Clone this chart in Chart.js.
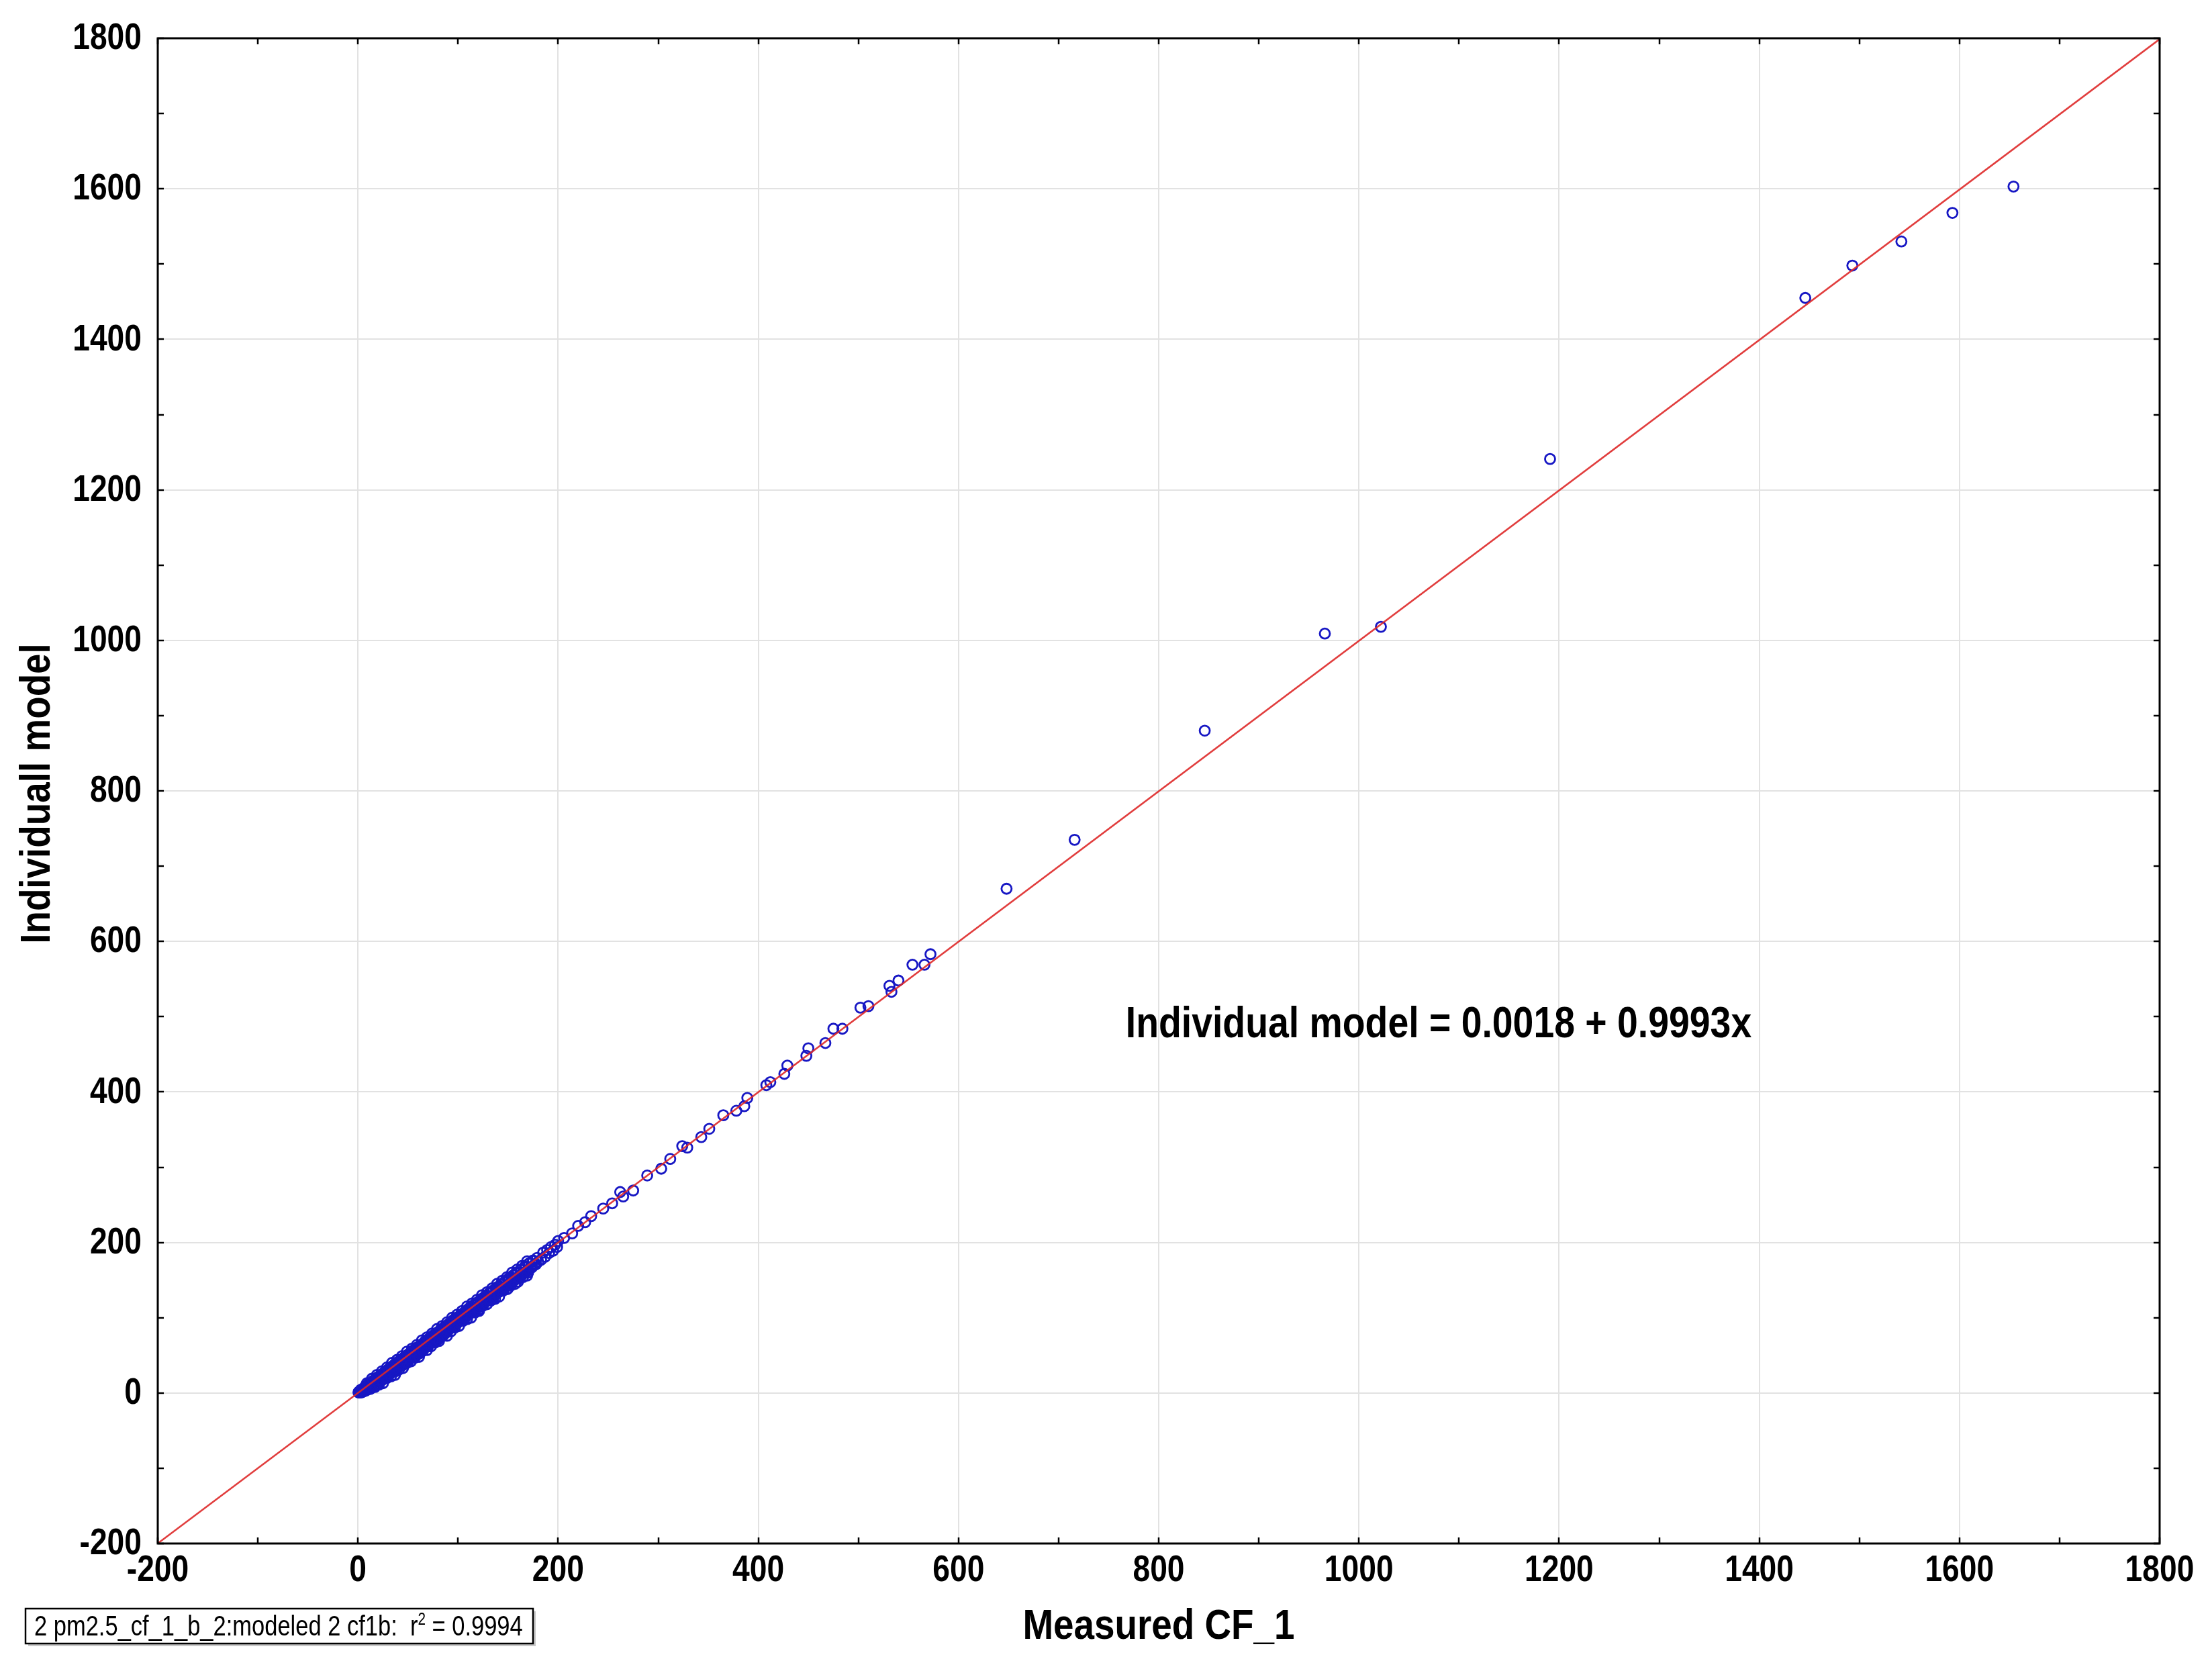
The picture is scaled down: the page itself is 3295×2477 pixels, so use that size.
<!DOCTYPE html>
<html>
<head>
<meta charset="utf-8">
<script src="https://cdn.jsdelivr.net/npm/chart.js@4/dist/chart.umd.min.js"></script>
<style>
html,body{margin:0;padding:0;background:#fff;}
#wrap{width:3295px;height:2477px;position:relative;}
</style>
</head>
<body>
<div id="wrap"><canvas id="c" width="3295" height="2477"></canvas></div>
<script>
// ---------- data ----------
const measuredCF1 = [
 0.5,1,1.5,2,2.5,3,3.5,4,4.5,5,5.5,6,6.5,7,7.5,8,8.5,9,9.5,10,10.5,11,11.5,12,12.5,13,13.5,14,14.5,15,15.5,16,16.5,17,17.5,18,18.5,19,19.5,20,
 21,21.5,22.5,23,24,24.5,25.5,26,27,27.5,28.5,29,30,30.5,31.5,32,33,33.5,34.5,35,36,36.5,37.5,38,39,39.5,40.5,41,42,42.5,43.5,44,45,45.5,46.5,47,48,48.5,49.5,50,51,51.5,52.5,53,54,54.5,55.5,56,57,57.5,58.5,59,60,
 61,62,63,64,65,66,67,68,69,70,71,72,73,74,75,76,77,78,79,80,81,82,83,84,85,86,87,88,89,90,91,92,93,94,95,96,97,98,99,100,101,102,103,104,105,106,107,108,109,110,111,112,113,114,115,116,117,118,119,120,
 122,123,125,126,128,129,131,132,134,135,137,138,140,141,143,144,146,147,149,150,152,153,155,156,158,159,161,163,165,167,169,171,173,175,177,179,
 183,185,187,189,191,193,195,197,199,200,
 22,25,30,38,45,50,58,62,70,80,88,95,105,120,135,150,160,170,
 2,4,6,8,10,12,14,16,18,20,22,24,26,28,30,32,34,36,38,40,42,44,46,48,50,52,54,56,58,60,62,64,66,68,70,72,74,76,78,80,82,84,86,88,90,
 92,94,96,98,100,102,104,106,108,110,112,114,116,118,120,122,124,126,128,130,132,134,136,138,140,142,144,146,148,150,152,154,156,158,160,162,164,166,168,170,172,174,176,178,180,
 3,7,11,15,19,23,27,31,35,39,43,47,51,55,59,63,67,71,75,79,83,87,91,95,99,103,107,111,115,119,123,127,131,135,139,143,147,151,155,159,163,167,171,175,
 13,17,21,25,29,33,37,41,45,49,53,57,61,65,69,73,77,81,85,89,93,97,101,105,109,113,117,121,125,129,133,137,141,145,149,153,157,161,165,169,
 9,14,19,24,29,34,39,44,49,54,59,64,69,74,79,84,89,94,99,104,109,114,119,124,129,134,139,144,149,154,159,164,169,
 206,214,220,227,233,245,254,262,265,275,289,303,312,324,329,343,351,365,378,386,389,408,412,426,429,448,450,467,475,484,502,510,531,533,540,554,566,572,
 648,716,846,966,1022,1191,1446,1493,1542,1593,1654
];
const individualModel = [
 0.8,1.5,0.7,2.6,1.9,3.4,2.2,4.3,3.6,5.2,4.1,6.4,5.5,7.1,6.2,8.6,7.3,9.4,8.1,10.7,9.2,11.3,10.1,12.8,11.0,13.5,12.2,14.6,12.9,15.8,13.7,16.4,14.8,17.9,15.6,18.5,16.9,19.7,17.4,20.8,
 21.6,19.8,23.1,21.0,24.9,22.7,26.0,24.1,27.8,25.4,29.1,26.8,30.9,28.5,32.2,29.6,33.8,31.2,35.1,32.6,36.9,34.0,38.2,35.3,39.7,36.8,41.3,38.2,42.8,39.6,44.0,41.1,45.9,42.4,47.2,44.0,48.8,45.3,50.1,46.9,51.7,48.2,53.3,49.8,54.6,51.1,56.2,52.7,57.8,54.1,59.0,55.6,60.9,
 57.5,62.7,59.1,64.8,61.0,66.5,63.2,68.9,64.7,70.6,66.8,72.9,68.5,74.7,70.9,76.6,72.4,78.8,74.6,80.5,76.3,82.9,78.4,84.6,80.7,86.8,82.1,88.5,84.6,90.9,86.2,92.7,88.8,94.5,90.1,96.9,92.6,98.4,94.3,100.8,96.1,102.6,98.7,104.9,99.8,106.5,102.4,108.8,103.9,110.6,106.3,112.7,107.8,114.5,110.2,116.9,111.6,118.4,113.9,120.7,
 117.2,123.8,119.6,126.9,122.5,129.7,125.1,132.6,128.3,135.9,130.8,138.4,133.6,141.8,136.9,144.5,139.2,147.7,142.8,150.6,145.1,153.9,148.6,156.5,151.2,159.8,154.7,163.4,158.1,167.9,162.5,171.6,166.2,175.8,170.9,179.5,
 177,186.5,181,190,186,194,189,197,194,202,
 15,18,22,29,37,41,50,53,62,71,80,87,96,110,125,139,148,160,
 0.6,0.9,2.3,3.1,5.8,5.2,8.9,9.4,11.7,13.1,16.2,17.5,19.8,21.4,23.9,25.2,27.6,30.3,31.1,33.8,35.7,37.2,40.1,40.9,44.2,45.3,47.6,50.4,51.2,53.9,55.1,57.8,60.2,61.3,63.7,65.9,67.2,70.1,71.4,73.6,75.8,77.3,80.2,81.1,83.9,
 85.4,87.6,90.3,91.2,93.8,95.5,97.1,100.4,101.2,103.6,105.9,107.3,110.2,111.1,113.7,115.8,117.2,120.4,121.3,123.5,125.8,127.1,130.2,131.6,133.9,135.2,137.7,140.3,141.1,143.8,145.6,147.2,150.3,151.4,153.7,155.9,157.3,160.2,161.1,163.6,165.8,167.4,170.1,171.2,174.5,
 4.4,8.2,12.6,16.3,20.5,24.1,28.6,32.4,36.2,40.7,44.3,48.5,52.1,56.6,60.4,64.2,68.7,72.3,76.5,80.1,84.6,88.4,92.2,96.7,100.3,104.5,108.1,112.6,116.4,120.2,124.7,128.3,132.5,136.1,140.6,144.4,148.2,152.7,156.3,160.5,164.1,168.6,172.4,176.2,
 6,8,11,13,20,22,24,31,33,40,42,47,48,56,57,62,67,69,76,76,82,87,89,96,98,100,107,109,116,118,123,125,128,136,138,143,145,152,154,156,
 13,19,24,29,34,40,44,49,55,59,64,70,74,79,85,89,94,100,104,109,115,119,124,130,134,139,145,149,154,160,164,169,175,
 206,212,222,227,235,245,252,267,261,269,289,298,311,328,326,340,351,369,375,381,392,409,413,424,435,448,458,465,484,484,512,514,541,533,548,569,569,583,
 670,735,880,1009,1018,1241,1455,1498,1530,1568,1603
];
const xTickValues = [-200,0,200,400,600,800,1000,1200,1400,1600,1800];
const yTickValues = [-200,0,200,400,600,800,1000,1200,1400,1600,1800];
const minorStep = 100;
const fitIntercept = 0.0018;
const fitSlope = 0.9993;
const xTitle = 'Measured CF_1';
const yTitle = 'Individuall model';
const equationText = 'Individual model = 0.0018 + 0.9993x';
const equationAnchor = {x: 767, y: 488};
const legendMain = '2 pm2.5_cf_1_b_2:modeled 2 cf1b:  r';
const legendSup = '2';
const legendTail = ' = 0.9994';

// ---------- styling ----------
const FONT = "'Liberation Sans',Arial,sans-serif";
const pts = measuredCF1.map((x,i)=>({x:x, y:individualModel[i]}));
const xMin = xTickValues[0], xMax = xTickValues[xTickValues.length-1];
const fitLine = [{x:xMin, y:fitIntercept+fitSlope*xMin},{x:xMax, y:fitIntercept+fitSlope*xMax}];

function narrowText(ctx, text, x, y, font, sx, align, baseline, rot){
  ctx.save();
  ctx.translate(x, y);
  if (rot) ctx.rotate(rot);
  ctx.scale(sx, 1);
  ctx.font = font;
  ctx.textAlign = align; ctx.textBaseline = baseline;
  ctx.fillStyle = '#000';
  ctx.fillText(text, 0, 0);
  ctx.restore();
}

const decor = {
  id:'decor',
  afterDatasetsDraw(chart){
    const ctx = chart.ctx, a = chart.chartArea;
    const xs = chart.scales.x, ys = chart.scales.y;
    ctx.save();
    ctx.strokeStyle = '#000'; ctx.lineWidth = 3;
    ctx.strokeRect(a.left, a.top, a.right-a.left, a.bottom-a.top);
    ctx.lineWidth = 2.5;
    const tl = 9;
    ctx.beginPath();
    for (let v = xs.min; v <= xs.max + 1e-6; v += minorStep){
      const px = Math.round(xs.getPixelForValue(v));
      ctx.moveTo(px, a.bottom); ctx.lineTo(px, a.bottom - tl);
      ctx.moveTo(px, a.top); ctx.lineTo(px, a.top + tl);
    }
    for (let v = ys.min; v <= ys.max + 1e-6; v += minorStep){
      const py = Math.round(ys.getPixelForValue(v));
      ctx.moveTo(a.left, py); ctx.lineTo(a.left + tl, py);
      ctx.moveTo(a.right, py); ctx.lineTo(a.right - tl, py);
    }
    ctx.stroke();
    ctx.restore();
    const tickFont = 'bold 55px ' + FONT;
    xTickValues.forEach(v => narrowText(ctx, String(v), xs.getPixelForValue(v), a.bottom + 41, tickFont, 0.84, 'center', 'middle'));
    yTickValues.forEach(v => narrowText(ctx, String(v), a.left - 24, ys.getPixelForValue(v) + 1, tickFont, 0.84, 'right', 'middle'));
    const titleFont = 'bold 63px ' + FONT;
    narrowText(ctx, xTitle, (a.left + a.right)/2, 2424, titleFont, 0.87, 'center', 'middle');
    narrowText(ctx, yTitle, 57, (a.top + a.bottom)/2 + 4, titleFont, 0.87, 'center', 'middle', -Math.PI/2);
    narrowText(ctx, equationText, xs.getPixelForValue(equationAnchor.x), ys.getPixelForValue(equationAnchor.y), 'bold 64px ' + FONT, 0.865, 'left', 'middle');
  },
  afterDraw(chart){
    const ctx = chart.ctx;
    ctx.save();
    const bx = 38, by = 2396, bw = 756, bh = 52;
    ctx.fillStyle = '#c8c8c8';
    ctx.fillRect(bx+4, by+4, bw, bh);
    ctx.fillStyle = '#fff';
    ctx.fillRect(bx, by, bw, bh);
    ctx.strokeStyle = '#000'; ctx.lineWidth = 2.5;
    ctx.strokeRect(bx, by, bw, bh);
    ctx.restore();
    const sx = 0.82;
    ctx.save();
    let fs = 34;
    ctx.font = fs + 'px ' + FONT;
    const target = 728;
    const w0 = (ctx.measureText(legendMain).width + ctx.measureText(legendTail).width + ctx.measureText(legendSup).width*0.6) * sx;
    fs = fs * target / w0;
    ctx.font = fs + 'px ' + FONT;
    const wMain = ctx.measureText(legendMain).width * sx;
    ctx.font = (fs*0.6) + 'px ' + FONT;
    const wSup = ctx.measureText(legendSup).width * sx;
    ctx.restore();
    let x = bx + 13, y = by + 40;
    narrowText(ctx, legendMain, x, y, fs + 'px ' + FONT, sx, 'left', 'alphabetic'); x += wMain;
    narrowText(ctx, legendSup, x, y - fs*0.38, (fs*0.6) + 'px ' + FONT, sx, 'left', 'alphabetic'); x += wSup;
    narrowText(ctx, legendTail, x, y, fs + 'px ' + FONT, sx, 'left', 'alphabetic');
  }
};

const gridColor = (ctx) => (ctx.tick && ctx.tick.value % 200 === 0) ? '#e2e2e2' : 'rgba(0,0,0,0)';

new Chart(document.getElementById('c'), {
  type:'scatter',
  data:{
    datasets:[
      {type:'line', data:fitLine, borderColor:'rgba(222,40,40,0.9)', borderWidth:2.6, pointRadius:0, fill:false, order:0},
      {data:pts, pointStyle:'circle', pointRadius:7.5, borderWidth:2.8, borderColor:'#1717c4', backgroundColor:'rgba(0,0,0,0)', order:1}
    ]
  },
  plugins:[decor],
  options:{
    responsive:false, animation:false,
    layout:{padding:{top:57, right:78, left:0, bottom:0}},
    plugins:{legend:{display:false}, tooltip:{enabled:false}},
    scales:{
      x:{
        type:'linear', min:xMin, max:xMax,
        afterBuildTicks:(s)=>{ s.ticks = xTickValues.map(v=>({value:v})); },
        afterFit:(s)=>{ s.height = 178; },
        grid:{color:gridColor, lineWidth:2, drawTicks:false},
        border:{display:false},
        ticks:{display:false}
      },
      y:{
        type:'linear', min:yTickValues[0], max:yTickValues[yTickValues.length-1],
        afterBuildTicks:(s)=>{ s.ticks = yTickValues.map(v=>({value:v})); },
        afterFit:(s)=>{ s.width = 235; },
        grid:{color:gridColor, lineWidth:2, drawTicks:false},
        border:{display:false},
        ticks:{display:false}
      }
    }
  }
});
</script>
</body>
</html>
